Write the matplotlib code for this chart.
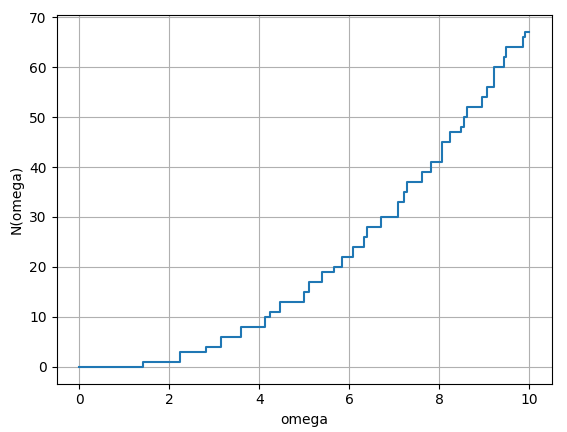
import numpy as np
import matplotlib
matplotlib.use("Agg")
import matplotlib.pyplot as plt

# jump positions of the counting function and the count after each jump
omega_steps = [0.0, 1.414, 2.236, 2.828, 3.162, 3.606, 4.123, 4.243, 4.472,
               5.0, 5.099, 5.385, 5.657, 5.831, 6.083, 6.325, 6.403, 6.708,
               7.071, 7.211, 7.280, 7.616, 7.810, 8.062, 8.246, 8.485, 8.544,
               8.602, 8.944, 9.055, 9.220, 9.434, 9.487, 9.849, 9.899, 10.0]
counts = [0, 1, 3, 4, 6, 8, 10, 11, 13,
          15, 17, 19, 20, 22, 24, 26, 28, 30,
          33, 35, 37, 39, 41, 45, 47, 48, 50,
          52, 54, 56, 60, 62, 64, 66, 67, 67]

fig = plt.figure(figsize=(5.67, 4.32), dpi=100)
ax = fig.add_axes([56.5 / 567, 1 - 383.7 / 432, 495.5 / 567, 368.4 / 432])

ax.step(omega_steps, counts, where="post")
ax.set_xlabel("omega")
ax.set_ylabel("N(omega)")
ax.grid(True)

fig.savefig("out.png", dpi=100)
